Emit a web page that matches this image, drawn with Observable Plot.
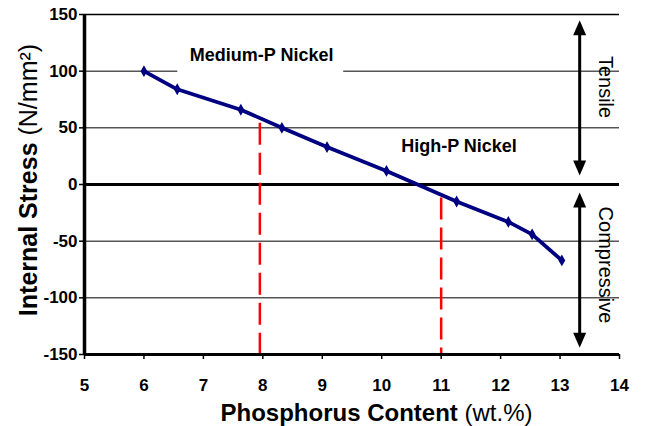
<!DOCTYPE html>
<html>
<head>
<meta charset="utf-8">
<script src="https://cdn.jsdelivr.net/npm/d3@7"></script>
<script src="https://cdn.jsdelivr.net/npm/@observablehq/plot@0.6"></script>
<style>
html,body{margin:0;padding:0;background:#fff;}
#chart svg{display:block;}
</style>
</head>
<body>
<div id="chart"></div>
<script>
// ---- data ----
const phosphorus = [6.0, 6.56, 7.63, 8.32, 9.08, 10.08, 11.26, 12.13, 12.53, 13.03];
const stress     = [100, 84, 66, 50, 33, 12, -15, -33, -44, -67];
const xTicks = [5, 6, 7, 8, 9, 10, 11, 12, 13, 14];
const yTicks = [-150, -100, -50, 0, 50, 100, 150];
const gridValues = [-100, -50, 50, 100];
const topValue = [150];
const zeroValue = [0];
const boundaryX = [7.95, 11.0];
const boundaryTop = [54, -12];
const regionLabels = ["Medium-P Nickel", "High-P Nickel"];
const regionLabelX = [7.98, 11.3];
const regionLabelY = [114, 34];
const labelBoxX = [6.57, 9.36];
const labelBoxY = [95, 128];
const directionLabels = ["Tensile", "Compressive"];
const directionX = [13.77, 13.77];
const directionY = [86, -71];
const arrowX = [13.33, 13.33];
const arrowTop = [145, -7];
const arrowBottom = [8, -144];
const xLabel = ["Phosphorus Content", "(wt.%)"];
const yLabel = ["Internal Stress", "(N/mm²)"];

// ---- tables built from the arrays ----
const points = phosphorus.map((x, i) => ({x, y: stress[i]}));
const boundaries = boundaryX.map((x, i) => ({x, top: boundaryTop[i], bottom: -150}));
const regions = regionLabels.map((t, i) => ({t, x: regionLabelX[i], y: regionLabelY[i]}));
const directions = directionLabels.map((t, i) => ({t, x: directionX[i], y: directionY[i]}));
const arrows = arrowX.map((x, i) => ({x, top: arrowTop[i], bottom: arrowBottom[i]}));
const box = [{x1: labelBoxX[0], x2: labelBoxX[1], y1: labelBoxY[0], y2: labelBoxY[1]}];

const triUp = {draw(ctx) { ctx.moveTo(0, 0); ctx.lineTo(6.5, 15); ctx.lineTo(-6.5, 15); ctx.closePath(); }};
const triDown = {draw(ctx) { ctx.moveTo(0, 0); ctx.lineTo(6.5, -15); ctx.lineTo(-6.5, -15); ctx.closePath(); }};

const FONT = "'Liberation Sans', Arial, Helvetica, sans-serif";
const fmt = d => String(d);

function axisTitles(index, scales, values, dims) {
  const g = d3.create("svg:g").attr("font-family", FONT).attr("fill", "#000");
  const fw = dims.width - dims.marginLeft - dims.marginRight;
  const fh = dims.height - dims.marginTop - dims.marginBottom;
  const tx = g.append("text")
    .attr("x", dims.marginLeft + fw / 2 + 25)
    .attr("y", dims.height - 5)
    .attr("text-anchor", "middle")
    .attr("font-size", 24);
  tx.append("tspan").attr("font-weight", "bold").text(xLabel[0]);
  tx.append("tspan").attr("font-weight", "normal").text(" " + xLabel[1]);
  const ty = g.append("text")
    .attr("transform", `translate(37,${dims.marginTop + fh / 2 - 4}) rotate(-90)`)
    .attr("text-anchor", "middle")
    .attr("font-size", 25);
  ty.append("tspan").attr("font-weight", "bold").text(yLabel[0]);
  ty.append("tspan").attr("font-weight", "normal").text(" " + yLabel[1]);
  return g.node();
}

const chart = Plot.plot({
  width: 650,
  height: 426,
  marginLeft: 84,
  marginRight: 31,
  marginTop: 14,
  marginBottom: 72,
  style: {fontFamily: FONT, fontSize: "17px", fontWeight: "bold", color: "#000", background: "#fff"},
  x: {domain: [5, 14], label: null},
  y: {domain: [-150, 150], label: null},
  marks: [
    Plot.axisX({ticks: xTicks, tickSize: 5, tickPadding: 19, tickFormat: fmt, label: null, fontSize: 17, fontWeight: "bold", strokeWidth: 1.5, fill: "#000"}),
    Plot.axisY({ticks: yTicks, tickSize: 5, tickPadding: 2, tickFormat: fmt, label: null, fontSize: 17, fontWeight: "bold", strokeWidth: 1.5, fill: "#000"}),
    Plot.ruleY(gridValues, {stroke: "#000", strokeWidth: 1}),
    Plot.ruleY(topValue, {stroke: "#000", strokeWidth: 1.5}),
    Plot.rect(box, {x1: "x1", x2: "x2", y1: "y1", y2: "y2", fill: "#fff"}),
    Plot.text(regions, {x: "x", y: "y", text: "t", fontSize: 18, fontWeight: "bold", fill: "#000"}),
    Plot.ruleY(zeroValue, {stroke: "#000", strokeWidth: 3}),
    Plot.ruleX(boundaries, {x: "x", y1: "top", y2: "bottom", stroke: "#ff0000", strokeWidth: 2.5, strokeDasharray: "22,8"}),
    Plot.line(points, {x: "x", y: "y", stroke: "#000080", strokeWidth: 3.8}),
    Plot.dot(points, {x: "x", y: "y", symbol: "diamond", r: 3.6, fill: "#000080", stroke: "none"}),
    Plot.ruleX(arrows, {x: "x", y1: "top", y2: "bottom", insetTop: 12, insetBottom: 12, stroke: "#000", strokeWidth: 3}),
    Plot.dot(arrows, {x: "x", y: "top", symbol: triUp, r: 5, fill: "#000", stroke: "none"}),
    Plot.dot(arrows, {x: "x", y: "bottom", symbol: triDown, r: 5, fill: "#000", stroke: "none"}),
    Plot.text(directions, {x: "x", y: "y", text: "t", rotate: 90, fontSize: 20, fontWeight: "normal", fill: "#000", lineAnchor: "middle"}),
    Plot.ruleX([5], {stroke: "#000", strokeWidth: 3.5}),
    Plot.ruleY([-150], {stroke: "#000", strokeWidth: 3}),
    axisTitles
  ]
});
document.getElementById("chart").appendChild(chart);
</script>
</body>
</html>
